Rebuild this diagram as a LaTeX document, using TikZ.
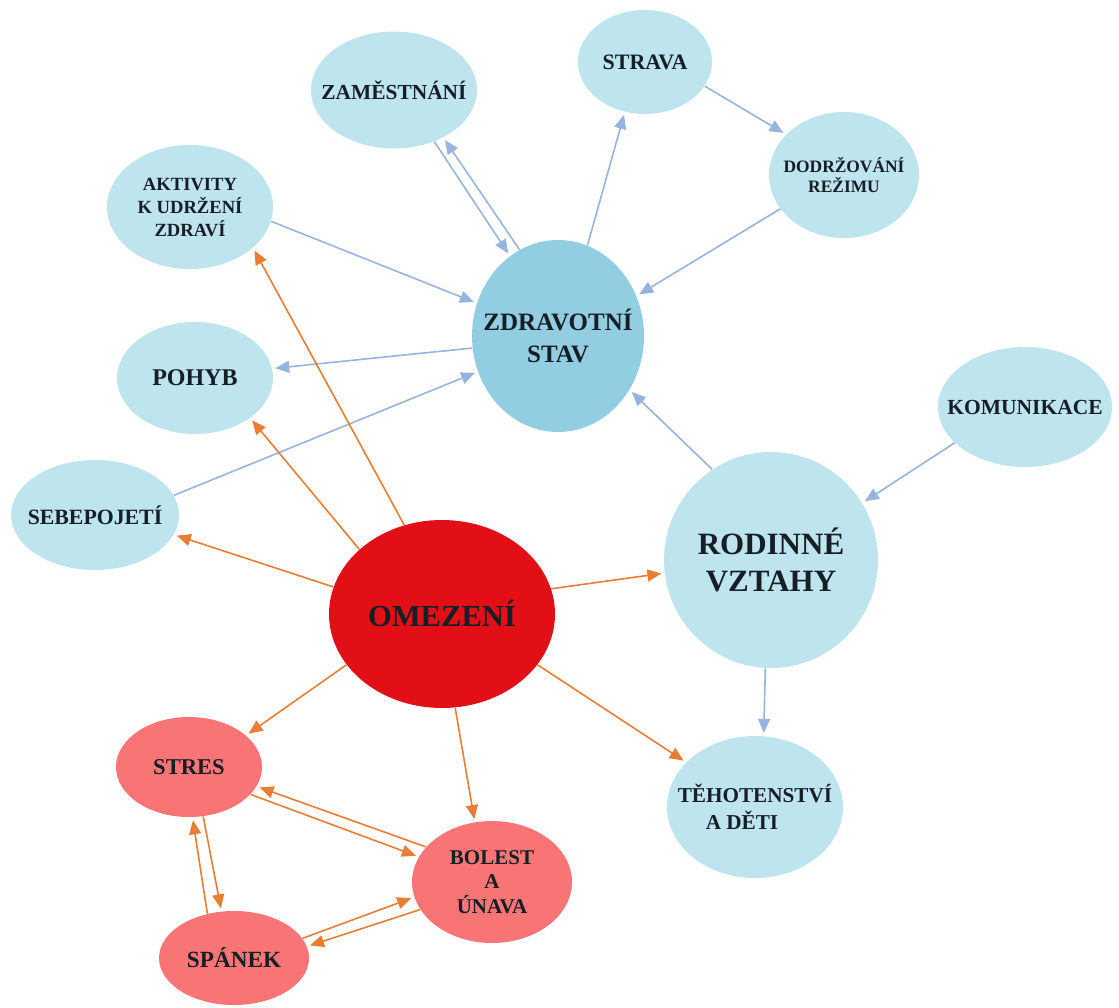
\documentclass[tikz,border=0pt]{standalone}
\usepackage{fontspec}
\setmainfont{Liberation Serif}
\usetikzlibrary{shapes.geometric,arrows.meta}

\definecolor{nodeblue}{RGB}{190,228,238}
\definecolor{coreblue}{RGB}{146,205,225}
\definecolor{corered}{RGB}{226,16,22}
\definecolor{nodepink}{RGB}{249,116,116}
\definecolor{linkblue}{RGB}{150,180,222}
\definecolor{linkorange}{RGB}{234,125,52}
\definecolor{ink}{RGB}{22,30,38}

\newcommand{\lblsize}[2]{\fontsize{#1}{#2}\selectfont\bfseries}

\tikzstyle{blob}=[ellipse,
    draw=none,
    fill=nodeblue,
    inner sep=0pt]
\tikzstyle{lbl}=[text=ink, align=center, inner sep=0pt]
\tikzstyle{bluearrow}=[draw=linkblue, line width=0.8pt, shorten >=1.5pt,
    -{Triangle[length=7pt,width=6pt]}]
\tikzstyle{orangearrow}=[draw=linkorange, line width=0.8pt, shorten >=1.5pt,
    -{Triangle[length=7pt,width=6pt]}]

\begin{document}
\begin{tikzpicture}[x=0.5pt,y=-0.5pt]
            \useasboundingbox (0,0) rectangle (1119,1007);

            \node (zam) [blob, minimum width=83pt, minimum height=58.5pt,
                label={[lbl, font={\lblsize{10.7}{13}}]center:ZAMĚSTNÁNÍ}] at (394,90) {};
            \node (strava) [blob, minimum width=67pt, minimum height=52pt,
                label={[lbl, font={\lblsize{11}{13}}]center:STRAVA}] at (645,62) {};
            \node (dodrz) [blob, minimum width=75pt, minimum height=63pt,
                label={[lbl, font={\lblsize{8.7}{10}}]center:DODRŽOVÁNÍ\\REŽIMU}] at (844,175) {};
            \node (aktiv) [blob, minimum width=83pt, minimum height=62pt,
                label={[lbl, font={\lblsize{9.3}{11.5}}]center:AKTIVITY\\K UDRŽENÍ\\ZDRAVÍ}] at (190,207) {};
            \node (zdrav) [blob, fill=coreblue, minimum width=86pt, minimum height=96pt,
                label={[lbl, font={\lblsize{12.5}{16}}]center:ZDRAVOTNÍ\\STAV}] at (558,336) {};
            \node (pohyb) [blob, minimum width=78pt, minimum height=56pt,
                label={[lbl, font={\lblsize{12}{14}}]center:POHYB}] at (195,378) {};
            \node (sebe) [blob, minimum width=84pt, minimum height=55pt,
                label={[lbl, font={\lblsize{10.9}{13}}]center:SEBEPOJETÍ}] at (95,515) {};
            \node (komun) [blob, minimum width=87pt, minimum height=60pt,
                label={[lbl, font={\lblsize{10.75}{13}}]center:KOMUNIKACE}] at (1025,407) {};
            \node (rodin) [blob, minimum width=107pt, minimum height=108pt,
                label={[lbl, font={\lblsize{15.5}{18.5}}]center:RODINNÉ\\VZTAHY}] at (771,560) {};
            \node (omez) [blob, fill=corered, minimum width=113pt, minimum height=94pt,
                label={[lbl, font={\lblsize{15.3}{18}}]center:OMEZENÍ}] at (442,614) {};
            \node (tehot) [blob, minimum width=88pt, minimum height=71pt,
                label={[lbl, font={\lblsize{10.6}{13.5}}]center:TĚHOTENSTVÍ\\A DĚTI\hbox to 13pt{}}] at (755,807) {};
            \node (stres) [blob, fill=nodepink, minimum width=73pt, minimum height=50pt,
                label={[lbl, font={\lblsize{11.3}{13}}]center:STRES}] at (189,767) {};
            \node (bolest) [blob, fill=nodepink, minimum width=80pt, minimum height=61pt,
                label={[lbl, font={\lblsize{10.5}{12.25}}]center:BOLEST\\A\\ÚNAVA}] at (492,882) {};
            \node (spanek) [blob, fill=nodepink, minimum width=75pt, minimum height=47pt,
                label={[lbl, font={\lblsize{11.6}{13}}]center:SPÁNEK}] at (234,958) {};

            \draw [bluearrow] (zam.-52) -- (zdrav.121);
            \draw [bluearrow] (zdrav.114) -- (zam.-44);
            \draw [bluearrow] (zdrav.72) -- (strava.248);
            \draw [bluearrow] (strava.-22) -- (dodrz.145);
            \draw [bluearrow] (dodrz.208) -- (zdrav.27);
            \draw [bluearrow] (aktiv.-10) -- (zdrav.158);
            \draw [bluearrow] (zdrav.188) -- (pohyb.7);
            \draw [bluearrow] (sebe.14) -- (zdrav.204);
            \draw [bluearrow] (rodin.123) -- (zdrav.-37);
            \draw [bluearrow] (komun.207) -- (rodin.32);
            \draw [bluearrow] (rodin.267) -- (tehot.83);

            \draw [orangearrow] (omez.113) -- (aktiv.-33);
            \draw [orangearrow] (omez.142) -- (pohyb.-36);
            \draw [orangearrow] (omez.166) -- (sebe.-14);
            \draw [orangearrow] (omez.13) -- (rodin.187);
            \draw [orangearrow] (omez.-28) -- (tehot.147);
            \draw [orangearrow] (omez.208) -- (stres.29);
            \draw [orangearrow] (omez.278) -- (bolest.106);
            \draw [orangearrow] (bolest.152) -- (stres.-16);
            \draw [orangearrow] (stres.-24) -- (bolest.161);
            \draw [orangearrow] (spanek.121) -- (stres.274);
            \draw [orangearrow] (stres.286) -- (spanek.105);
            \draw [orangearrow] (spanek.16) -- (bolest.191);
            \draw [orangearrow] (bolest.201) -- (spanek.9);

        \end{tikzpicture}
\end{document}
